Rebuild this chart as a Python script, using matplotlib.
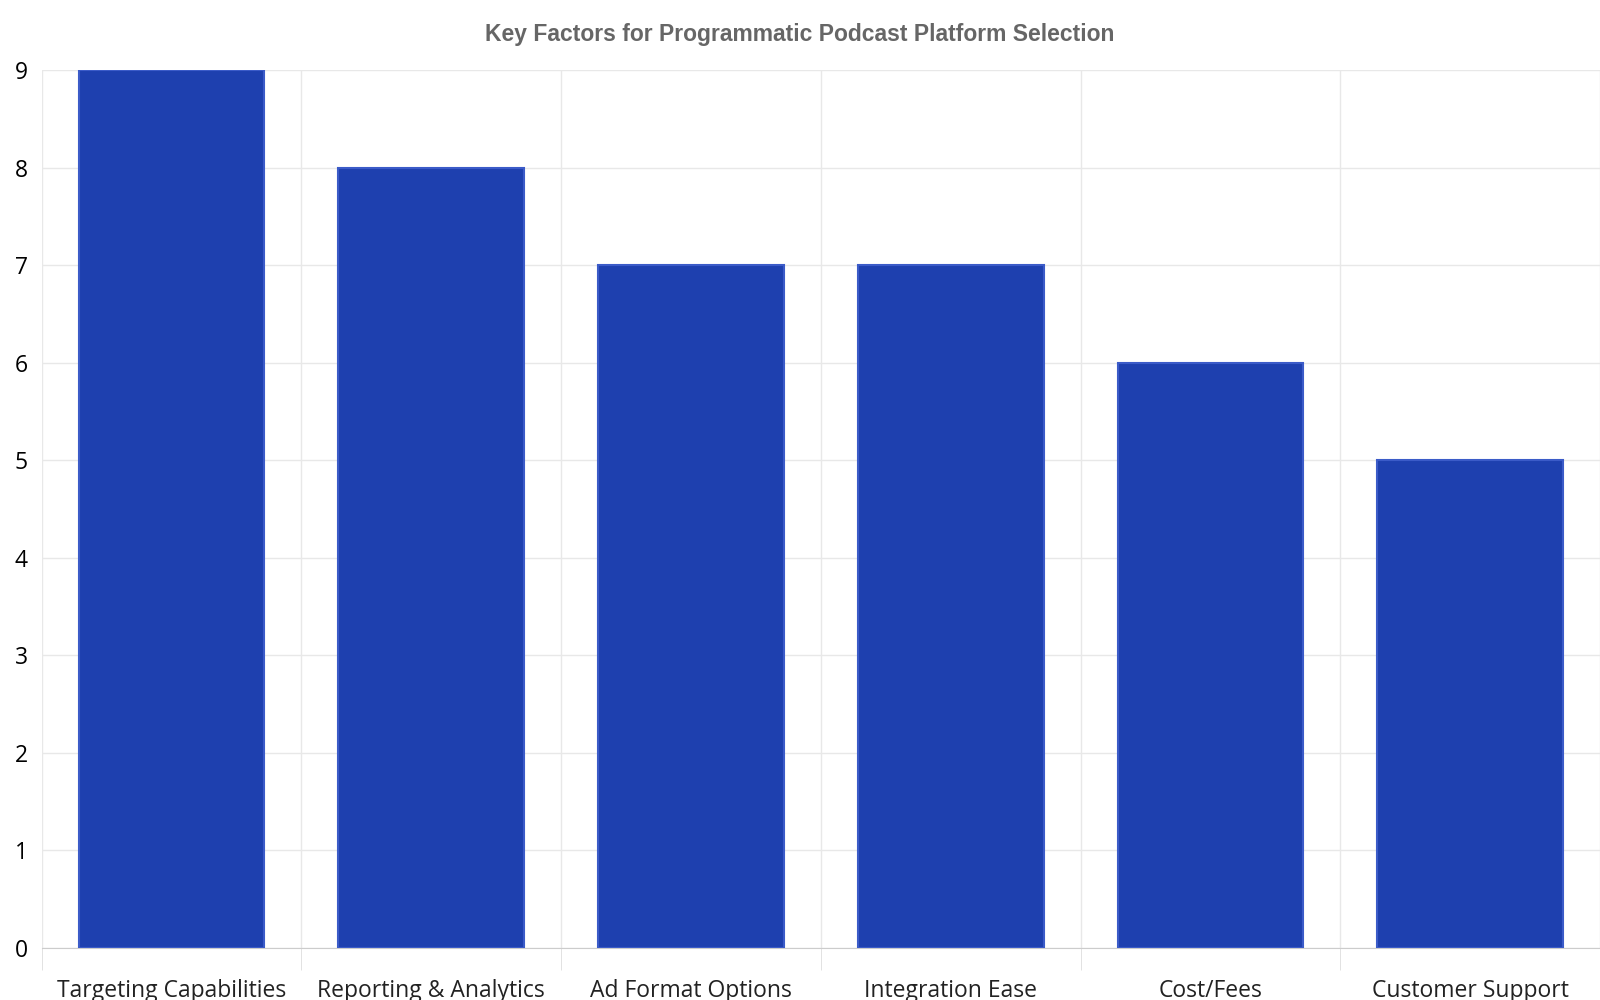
import matplotlib
matplotlib.use("Agg")
import matplotlib.pyplot as plt
import numpy as np

categories = ["Targeting Capabilities", "Reporting & Analytics", "Ad Format Options",
              "Integration Ease", "Cost/Fees", "Customer Support"]
scores = [9, 8, 7, 7, 6, 5]
yticks = [0, 1, 2, 3, 4, 5, 6, 7, 8, 9]

fig = plt.figure(figsize=(16, 10), dpi=100)
ax = fig.add_axes([0.026, 0.052, 0.974, 0.878])
x = np.arange(len(categories))
ax.bar(x, scores, width=0.715, color="#1E40AF", edgecolor="#3B5BC8", linewidth=1.5, zorder=3)
ax.set_xlim(-0.5, len(categories) - 0.5)
ax.set_ylim(0, 9)
ax.set_yticks(yticks)
ax.set_xticks(x)
ax.set_xticklabels(categories, fontsize=16.5, family="Open Sans", color="#222222")
ax.set_xticks(np.arange(-0.5, len(categories)), minor=True)
ax.tick_params(axis="x", which="major", length=0, pad=22)
ax.tick_params(axis="x", which="minor", length=16, color="#dddddd")
ax.tick_params(axis="y", length=0, labelsize=16.5, pad=10)
for lab in ax.get_yticklabels():
    lab.set_family("Open Sans")
ax.grid(axis="y", color="#e8e8e8", linewidth=1, zorder=0)
ax.grid(axis="x", which="minor", color="#e8e8e8", linewidth=1, zorder=0)
for s in ["top", "right", "left"]:
    ax.spines[s].set_visible(False)
ax.spines["bottom"].set_color("#cccccc")
fig.text(0.5, 0.966, "Key Factors for Programmatic Podcast Platform Selection",
         ha="center", va="center", fontsize=16.5, fontweight="bold",
         family="Liberation Sans", color="#666666")
fig.savefig("out.png")
